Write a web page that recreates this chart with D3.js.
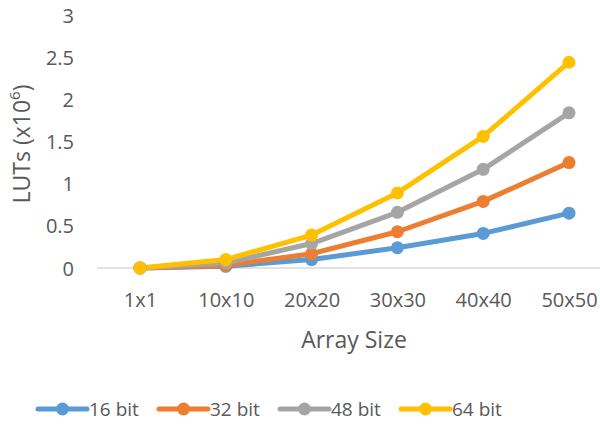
<!DOCTYPE html>
<html><head><meta charset="utf-8">
<script src="https://cdn.jsdelivr.net/npm/d3@7"></script>
<style>body{margin:0;background:#fff;} svg{display:block;font-family:"Open Sans",sans-serif;}</style>
</head><body>
<svg id="c" width="600" height="424"></svg>
<script>
const categories = ["1x1","10x10","20x20","30x30","40x40","50x50"];
const seriesNames = ["16 bit","32 bit","48 bit","64 bit"];
const colors = ["#5B9BD5","#ED7D31","#A5A5A5","#FFC000"];
const s16 = [0, 0.02, 0.10, 0.24, 0.41, 0.65];
const s32 = [0, 0.03, 0.17, 0.43, 0.79, 1.25];
const s48 = [0, 0.06, 0.29, 0.66, 1.17, 1.84];
const s64 = [0, 0.10, 0.39, 0.89, 1.56, 2.44];
const yTicks = [0, 0.5, 1, 1.5, 2, 2.5, 3];

const series = [s16, s32, s48, s64];
const svg = d3.select("#c");
const x = d3.scalePoint().domain(categories).range([140, 569]);
const y = d3.scaleLinear().domain([0, 3]).range([268, 15]);
const textColor = "#595959";

// zero baseline
svg.append("line").attr("x1", 97).attr("x2", 612).attr("y1", y(0)).attr("y2", y(0))
  .attr("stroke", "#d9d9d9").attr("stroke-width", 1.5);

// y axis labels
const yAxis = d3.axisLeft(y).tickValues(yTicks).tickSize(0).tickPadding(0).tickFormat(d => String(d));
const gy = svg.append("g").attr("transform", "translate(74,0)").call(yAxis);
gy.select(".domain").remove();
gy.selectAll("text").attr("fill", textColor).attr("font-size", 20).attr("font-family", '"Open Sans",sans-serif').attr("dy", "0.35em");

// x axis labels
const xAxis = d3.axisBottom(x).tickSize(0).tickPadding(0);
const gx = svg.append("g").attr("transform", "translate(0,300)").call(xAxis);
gx.select(".domain").remove();
gx.selectAll("text").attr("fill", textColor).attr("font-size", 20).attr("font-family", '"Open Sans",sans-serif').attr("dy", "0.35em");

// axis titles
svg.append("text").attr("x", 354).attr("y", 340).attr("dy", "0.35em").attr("text-anchor", "middle")
  .attr("fill", textColor).attr("font-size", 23).text("Array Size");
const yt = svg.append("text").attr("transform", "translate(22,144) rotate(-90)").attr("text-anchor", "middle")
  .attr("dy", "0.35em").attr("fill", textColor).attr("font-size", 23);
yt.append("tspan").text("LUTs (x10");
yt.append("tspan").attr("font-size", 15).attr("dy", "-0.7em").text("6");
yt.append("tspan").attr("dy", "0.45em").text(")");

// lines
const line = d3.line().x((d, i) => x(categories[i])).y(d => y(d));
series.forEach((s, k) => {
  svg.append("path").datum(s).attr("d", line).attr("fill", "none")
    .attr("stroke", colors[k]).attr("stroke-width", 5).attr("stroke-linejoin", "round");
});
series.forEach((s, k) => {
  svg.append("g").selectAll("circle").data(s).join("circle")
    .attr("cx", (d, i) => x(categories[i])).attr("cy", d => y(d)).attr("r", 6.5).attr("fill", colors[k]);
});

// legend
const legX = [38, 159, 280, 401];
seriesNames.forEach((n, k) => {
  const g = svg.append("g").attr("transform", `translate(${legX[k]},409)`);
  g.append("line").attr("x1", 0).attr("x2", 49).attr("stroke", colors[k]).attr("stroke-width", 5).attr("stroke-linecap", "round");
  g.append("circle").attr("cx", 24.5).attr("r", 6.5).attr("fill", colors[k]);
  g.append("text").attr("x", 51).attr("dy", "0.35em").attr("fill", textColor).attr("font-size", 19).text(n);
});
</script>
</body></html>
